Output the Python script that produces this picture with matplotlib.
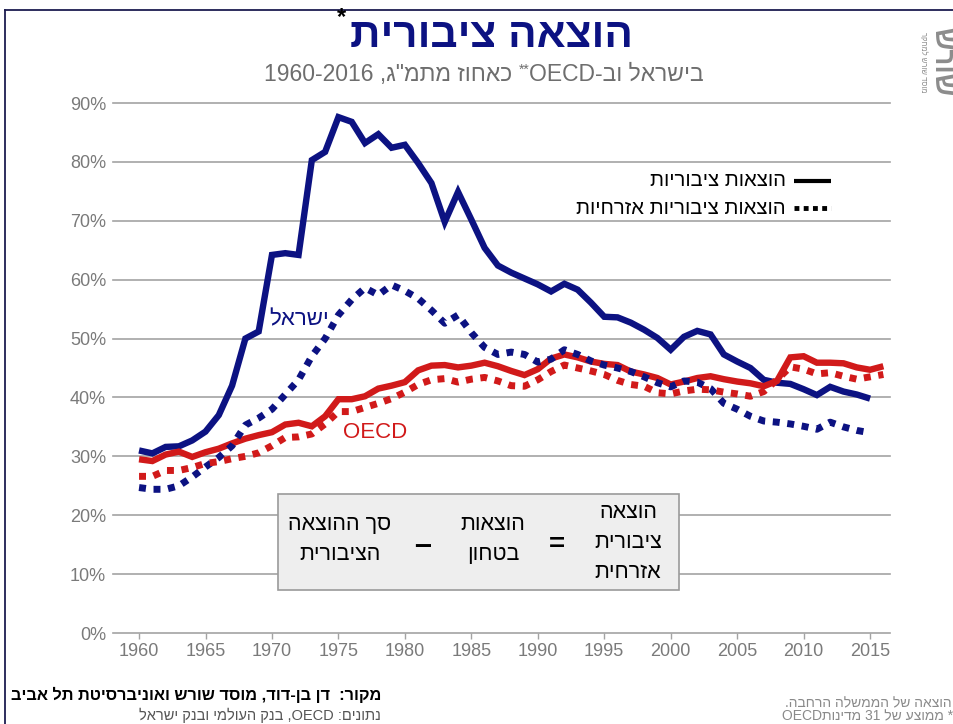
import matplotlib
matplotlib.use('Agg')
import matplotlib.pyplot as plt
from matplotlib.lines import Line2D
from matplotlib.patches import Rectangle

# ---------------- data ----------------
years_isr = list(range(1960, 2016))
years_oecd = list(range(1960, 2017))

isr_total = [31.0, 30.5, 31.6, 31.7, 32.7, 34.2, 37.0, 42.0, 50.0, 51.2,
             64.2, 64.5, 64.2, 80.3, 81.7, 87.6, 86.8, 83.2, 84.7, 82.4,
             82.9, 79.8, 76.4, 69.8, 74.9, 70.2, 65.4, 62.4, 61.2, 60.2,
             59.2, 58.0, 59.3, 58.3, 56.1, 53.7, 53.6, 52.7, 51.5, 50.1,
             48.1, 50.3, 51.3, 50.7, 47.3, 46.1, 45.0, 43.0, 42.5, 42.3,
             41.4, 40.4, 41.8, 41.0, 40.5, 39.8]

isr_civil = [24.7, 24.4, 24.4, 25.0, 26.5, 28.2, 29.8, 31.8, 35.3, 36.5,
             38.0, 40.5, 43.0, 47.0, 50.0, 54.0, 56.6, 58.6, 57.4, 59.1,
             58.1, 56.8, 54.8, 52.6, 54.0, 51.0, 48.5, 47.3, 47.7, 47.3,
             46.0, 46.5, 48.1, 47.3, 46.2, 45.5, 45.0, 44.4, 43.5, 42.5,
             41.8, 42.8, 42.6, 41.5, 39.0, 38.0, 36.8, 36.0, 35.8, 35.5,
             35.1, 34.6, 35.8, 35.0, 34.4, 34.0]

oecd_total = [29.5, 29.2, 30.3, 30.8, 29.9, 30.7, 31.3, 32.2, 33.0, 33.6,
              34.1, 35.4, 35.7, 35.1, 36.8, 39.7, 39.7, 40.2, 41.5, 42.0,
              42.6, 44.6, 45.4, 45.5, 45.1, 45.4, 45.9, 45.3, 44.5, 43.8,
              44.8, 46.6, 47.3, 46.8, 46.1, 45.7, 45.5, 44.4, 43.9, 43.3,
              42.2, 42.7, 43.3, 43.6, 43.1, 42.7, 42.4, 41.9, 42.8, 46.8,
              47.0, 45.9, 45.9, 45.8, 45.1, 44.7, 45.3]

oecd_civil = [26.6, 26.6, 27.6, 27.6, 28.1, 28.8, 29.1, 29.6, 30.0, 30.6,
              31.8, 33.2, 33.3, 33.8, 35.5, 37.6, 37.6, 38.3, 39.0, 39.8,
              40.9, 42.2, 43.0, 43.2, 42.6, 43.1, 43.4, 42.8, 42.0, 41.9,
              43.0, 44.4, 45.5, 45.0, 44.5, 43.9, 42.9, 42.2, 41.9, 40.8,
              40.6, 41.1, 41.4, 41.3, 40.9, 40.6, 40.2, 41.0, 43.0, 45.2,
              44.8, 44.0, 44.2, 43.6, 43.1, 43.5, 43.9]

x_ticks = [1960, 1965, 1970, 1975, 1980, 1985, 1990, 1995, 2000, 2005, 2010, 2015]
y_ticks = [0, 10, 20, 30, 40, 50, 60, 70, 80, 90]

# text (logical order; reversed for display)
title_txt = "הוצאה ציבורית"
legend_total = "הוצאות ציבוריות"
legend_civil = "הוצאות ציבוריות אזרחיות"
label_isr = "ישראל"
label_oecd = "OECD"
box_right = ["הוצאה", "ציבורית", "אזרחית"]
box_mid = ["הוצאות", "בטחון"]
box_left = ["סך ההוצאה", "הציבורית"]
source_txt = "מקור:  דן בן-דוד, מוסד שורש ואוניברסיטת תל אביב"
note1_txt = "הוצאה של הממשלה הרחבה."


def rev(s):
    return s[::-1]


W, H = 954, 724
NAVY = '#0c1282'
RED = '#d11a1a'
GREY = '#7a7a7a'
HEB = ['Liberation Sans', 'DejaVu Sans']

plt.rcParams['font.family'] = HEB

fig = plt.figure(figsize=(W / 100, H / 100), dpi=100)
fig.patch.set_facecolor('white')


def fx(x):
    return x / W


def fy(y):
    return 1 - y / H


ax = fig.add_axes([fx(113), fy(633), (890 - 113) / W, (633 - 103) / H])
ax.set_xlim(1958.04, 2016.5)
ax.set_ylim(0, 90)
for s in ax.spines.values():
    s.set_visible(False)
for v in y_ticks:
    ax.axhline(v, color='#a3a3a3', lw=1.2, zorder=0, clip_on=False)

ax.set_xticks(x_ticks)
ax.set_xticklabels([str(v) for v in x_ticks])
ax.set_yticks(y_ticks)
ax.set_yticklabels([f"{v}%" for v in y_ticks])
ax.tick_params(axis='x', direction='out', length=4, width=1, color='#a3a3a3',
               labelsize=13, labelcolor=GREY, pad=3)
ax.tick_params(axis='y', length=0, labelsize=13, labelcolor=GREY, pad=5)

ax.plot(years_isr, isr_total, color=NAVY, lw=4.6, solid_joinstyle='miter',
        solid_capstyle='butt', zorder=3, clip_on=False)
ax.plot(years_oecd, oecd_total, color=RED, lw=4.6, solid_joinstyle='miter',
        solid_capstyle='butt', zorder=4, clip_on=False)
ax.plot(years_isr, isr_civil, color=NAVY, lw=5, linestyle=(0, (1, 1.1)),
        dash_capstyle='butt', zorder=5, clip_on=False)
ax.plot(years_oecd, oecd_civil, color=RED, lw=5, linestyle=(0, (1, 1.1)),
        dash_capstyle='butt', zorder=5, clip_on=False)

# series labels
fig.text(fx(299), fy(320), rev(label_isr), color=NAVY, fontsize=16,
         ha='center', va='center')
fig.text(fx(375), fy(432), label_oecd, color=RED, fontsize=16,
         ha='center', va='center')

# legend (manual)
fig.add_artist(Line2D([fx(794), fx(831)], [fy(181), fy(181)], color='black',
                      lw=3, solid_capstyle='butt'))
fig.add_artist(Line2D([fx(794), fx(831)], [fy(208), fy(208)], color='black',
                      lw=3.5, linestyle=(0, (1, 0.9)), dash_capstyle='butt'))
fig.text(fx(786), fy(181), rev(legend_total), fontsize=14.6, color='black',
         ha='right', va='center')
fig.text(fx(786), fy(208), rev(legend_civil), fontsize=14.6, color='black',
         ha='right', va='center')

# formula box
fig.add_artist(Rectangle((fx(278), fy(590)), (679 - 278) / W, (590 - 494) / H,
                         transform=fig.transFigure, facecolor='#eeeeee',
                         edgecolor='#9a9a9a', lw=1.2, zorder=5))
for s, yy in zip(box_right, [513, 543, 573]):
    fig.text(fx(628), fy(yy), rev(s), fontsize=15.5, ha='center', va='center',
             zorder=6)
for s, yy in zip(box_mid, [525, 555]):
    fig.text(fx(493), fy(yy), rev(s), fontsize=15.5, ha='center', va='center',
             zorder=6)
for s, yy in zip(box_left, [525, 555]):
    fig.text(fx(340), fy(yy), rev(s), fontsize=15.5, ha='center', va='center',
             zorder=6)
fig.text(fx(557), fy(545), "=", fontsize=20, fontweight='bold', ha='center',
         va='center', zorder=6)
fig.text(fx(423), fy(546), "–", fontsize=22, fontweight='bold', ha='center',
         va='center', zorder=6)

# title
fig.text(fx(491), fy(36), rev(title_txt), fontsize=30.5, fontweight='bold',
         color=NAVY, ha='center', va='center')
fig.text(fx(342), fy(18), "*", fontsize=17, fontweight='bold',
         color='black', ha='center', va='center')

# subtitle with superscript
renderer = fig.canvas.get_renderer()
SUBC = '#6e6e6e'
runs = [("1960-2016 ," + rev('מתמ"ג') + " " + rev("כאחוז") + " ", 16.5, 0),
        ("**", 10, 7),
        ("OECD-" + rev("וב") + " " + rev("בישראל"), 16.5, 0)]
objs = []
total = 0
for s, fs, dy in runs:
    t = fig.text(0, 0, s, fontsize=fs, color=SUBC, ha='left', va='baseline')
    w = t.get_window_extent(renderer).width
    objs.append((t, w, dy))
    total += w
x0 = 484 - total / 2
for t, w, dy in objs:
    t.set_position((fx(x0), fy(81 - dy)))
    x0 += w

# frame lines
fig.add_artist(Line2D([fx(5), fx(954)], [fy(9.5), fy(9.5)], color='#1c1c50', lw=1.3))
fig.add_artist(Line2D([fx(5), fx(5)], [fy(9.5), fy(724)], color='#1c1c50', lw=1.3))

# logo (rotated)
fig.text(fx(941), fy(62), rev("שורש"), fontsize=20, fontweight='bold',
         color='#8c8c8c', rotation=-90, ha='center', va='center')
fig.text(fx(923), fy(62), rev("מוסד שורש למחקר"), fontsize=5.5,
         color='#8c8c8c', rotation=-90, ha='center', va='center')

# footer
fig.text(fx(381), fy(695), rev(source_txt), fontsize=11.8, fontweight='bold',
         color='black', ha='right', va='center')
data_vis = rev("בנק העולמי ובנק ישראל") + " ,OECD :" + rev("נתונים")
fig.text(fx(381), fy(715), data_vis, fontsize=10.5, color='#555555',
         ha='right', va='center')
fig.text(fx(952), fy(703), rev(note1_txt), fontsize=10, color='#8a8a8a',
         ha='right', va='center')
note2_vis = "OECD" + rev("מדינות") + " 31 " + rev("ממוצע של") + " *"
fig.text(fx(953), fy(716), note2_vis, fontsize=10, color='#8a8a8a',
         ha='right', va='center')

fig.savefig('out.png', dpi=100)
